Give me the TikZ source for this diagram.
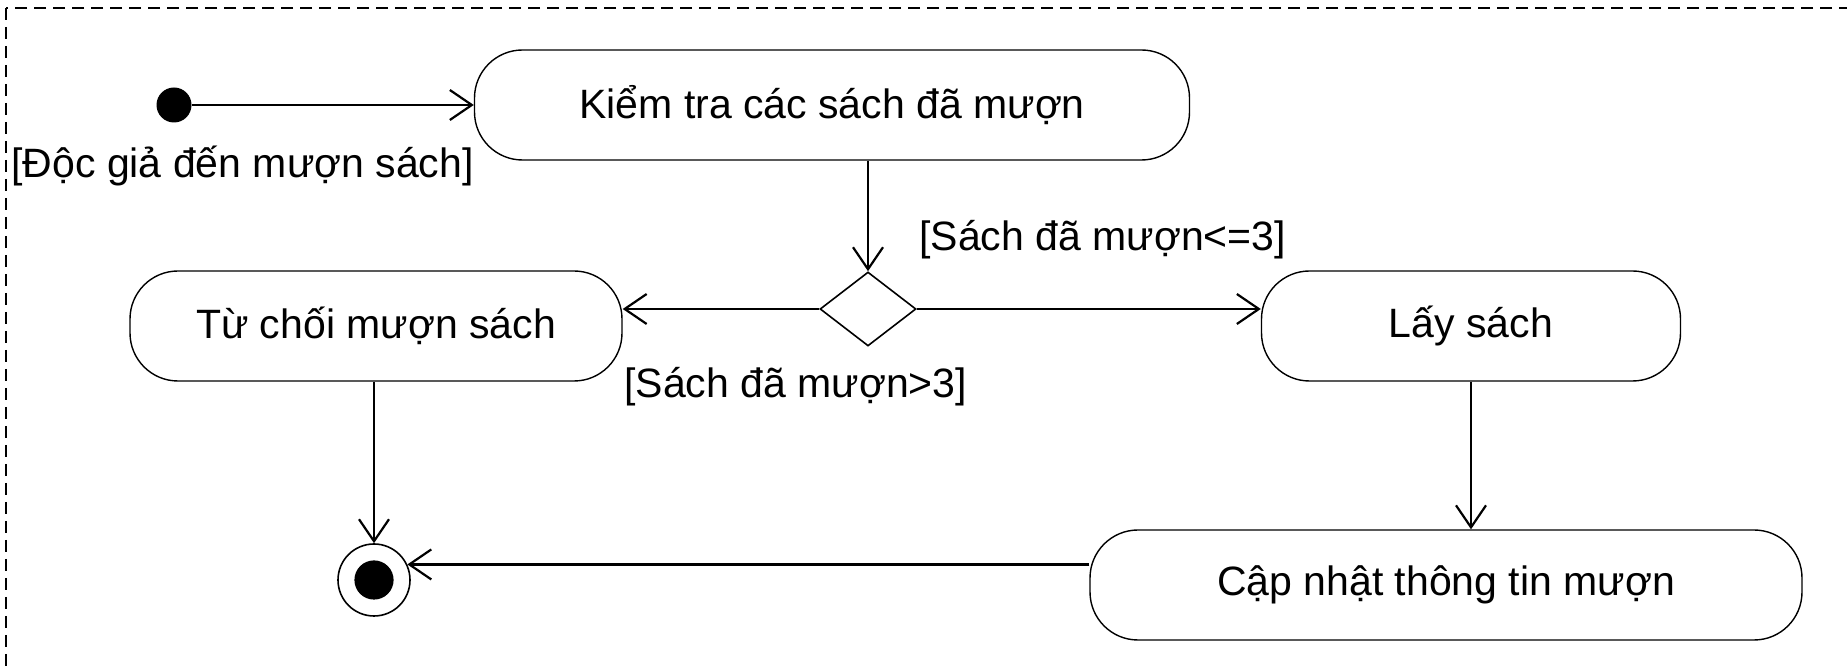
\documentclass[tikz,border=0pt]{standalone}
\usepackage{fontspec}
\setmainfont{Liberation Sans}
\usetikzlibrary{arrows.meta,shapes.geometric}

\tikzset{
  txt/.style={font=\fontsize{20.5pt}{24pt}\selectfont},
  action/.style={draw, line width=0.7pt, rounded corners=24pt, minimum height=55pt, inner sep=0pt, txt},
  guard/.style={txt, inner sep=0pt, anchor=west},
  flow/.style={line width=1.1pt, -{Straight Barb[length=11pt,width=15pt,line width=1.1pt]}},
  decision/.style={draw, line width=0.8pt, diamond, minimum width=48pt, minimum height=37pt, inner sep=0pt},
  startnode/.style={circle, fill=black, minimum size=17.5pt, inner sep=0pt},
  endnode/.style={circle, draw, line width=0.8pt, minimum size=36pt, inner sep=0pt,
    path picture={\fill (path picture bounding box.center) circle (9.8pt);}},
}

\begin{document}
\begin{tikzpicture}[x=0.5pt, y=-0.5pt]
\useasboundingbox (0,0) rectangle (1847,672);
\fill[white] (0,0) rectangle (1847,672);

% frame
\draw[line width=0.8pt, dash pattern=on 6pt off 3.5pt] (6,8) rectangle (1880,700);

% nodes
\node[startnode] (init) at (174,105) {};
\node[action, minimum width=357.5pt] (check) at (832,105) {Kiểm tra các sách đã mượn};
\node[decision] (dec) at (868,309) {};
\node[action, minimum width=246pt] (refuse) at (376,326) {Từ chối mượn sách};
\node[action, minimum width=209.5pt] (take) at (1471,326) {Lấy sách};
\node[action, minimum width=356pt] (update) at (1446,585) {Cập nhật thông tin mượn};
\node[endnode] (final) at (374,580) {};

% guards
\node[guard] (gstart) at (11,166) {[Độc giả đến mượn sách]};
\node[guard] (gle) at (919,240) {[Sách đã mượn<=3]};
\node[guard] (ggt) at (624,387) {[Sách đã mượn>3]};

% flows
\draw[flow] (init) -- (check.west);
\draw[flow] (check.south -| dec.north) -- (dec.north);
\draw[flow] (dec.west) -- (refuse.east |- dec.west);
\draw[flow] (dec.east) -- (take.west |- dec.east);
\draw[flow] (final |- refuse.south) -- (final.north);
\draw[flow] (take.south) -- (take.south |- update.north);
\draw[flow] (update.west |- final.25) -- (final.25);
\end{tikzpicture}
\end{document}
